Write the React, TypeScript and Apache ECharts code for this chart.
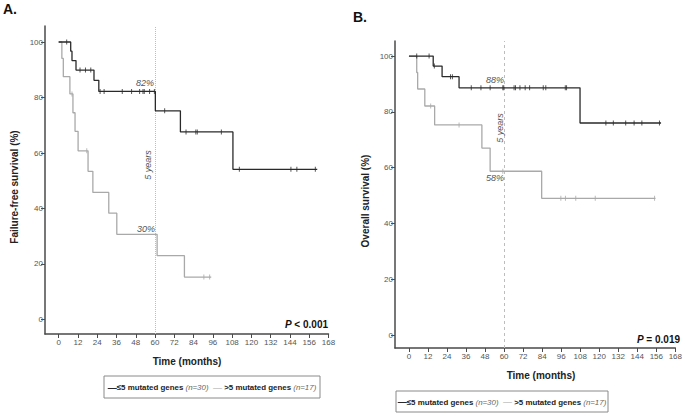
import React, { useEffect, useRef } from "react";
import * as echarts from "echarts";

// ---------- data ----------
const xTicks = [0, 12, 24, 36, 48, 60, 72, 84, 96, 108, 120, 132, 144, 156, 168];
const yTicks = [0, 20, 40, 60, 80, 100];

// Panel A: failure-free survival
const ffsLowCurve: [number, number][] = [
  [0, 100], [7.5, 96.7], [8.3, 93.3], [10.8, 89.9], [22, 86.2], [25, 82.2],
  [60.2, 75.2], [75.8, 67.6], [108.5, 54.1], [161, 54.1],
];
const ffsLowCensor: [number, number][] = [
  [5, 100], [13.3, 89.9], [16.7, 89.9], [20, 89.9],
  [25.8, 82.2], [28.3, 82.2], [39.6, 82.2], [45.4, 82.2], [50.4, 82.2], [52.5, 82.2], [53.3, 82.2], [56.6, 82.2], [59.6, 82.2],
  [66, 75.2], [79.3, 67.6], [85.4, 67.6], [86.3, 67.6], [101.3, 67.6],
  [112.5, 54.1], [144.6, 54.1], [148.3, 54.1], [159.8, 54.1],
];
const ffsHighCurve: [number, number][] = [
  [0, 100], [2, 94.1], [2.9, 87.5], [7, 81.3], [8.9, 74.5], [10.2, 67.8], [12.1, 60.8],
  [18.3, 53.4], [21.3, 45.8], [31.2, 38.3], [36.2, 30.7], [61.3, 23], [78.3, 15.3], [95, 15.3],
];
const ffsHighCensor: [number, number][] = [
  [8.3, 81.3], [17.5, 60.8], [90.4, 15.3], [94, 15.3],
];

// Panel B: overall survival
const osLowCurve: [number, number][] = [
  [0, 100], [15.3, 96.4], [20.9, 92.6], [31.6, 88.6], [107.9, 76], [159, 76],
];
const osLowCensor: [number, number][] = [
  [4.9, 100], [12.7, 100], [16, 96.4], [26.2, 92.6], [27.4, 92.6],
  [39.3, 88.6], [45.4, 88.6], [51.2, 88.6], [59.2, 88.6], [59.8, 88.6], [66.3, 88.6], [67.2, 88.6],
  [70, 88.6], [73.3, 88.6], [76.1, 88.6], [84.7, 88.6], [86.3, 88.6], [98.6, 88.6], [99.4, 88.6],
  [124.2, 76], [128.9, 76], [136.7, 76], [142, 76], [146.9, 76], [158, 76],
];
const osHighCurve: [number, number][] = [
  [0, 100], [4.9, 94.1], [5.5, 88.2], [10, 82.1], [16.2, 75.3], [46, 67], [51.2, 58.7], [83.7, 49], [155.5, 49],
];
const osHighCensor: [number, number][] = [
  [13.7, 82.1], [31.6, 75.3], [59.2, 58.7], [95.8, 49], [98.7, 49], [105.2, 49], [117.5, 49], [154.9, 49],
];

const landmark = 60;

// ---------- styles ----------
const BLACK = "#2a2a2a";
const GRAY = "#a9a9a9";
const AXIS = "#4a4a4a";
const FONT = "Liberation Sans, Arial, sans-serif";

function xAxisCfg(gridIndex: number, min: number) {
  return {
    type: "value",
    gridIndex,
    min,
    max: 168,
    axisLine: { show: true, onZero: false, lineStyle: { color: AXIS, width: 1.5 } },
    axisTick: { show: true, length: 4, customValues: xTicks, lineStyle: { color: AXIS } },
    axisLabel: { customValues: xTicks, color: "#555", fontSize: 8, fontFamily: FONT, margin: 4, showMaxLabel: true },
    splitLine: { show: false },
  };
}
function yAxisCfg(gridIndex: number, min: number, max: number) {
  return {
    type: "value",
    gridIndex,
    min,
    max,
    axisLine: { show: true, onZero: false, lineStyle: { color: AXIS, width: 1.5 } },
    axisTick: { show: true, length: 4, customValues: yTicks, lineStyle: { color: AXIS } },
    axisLabel: { customValues: yTicks, color: "#555", fontSize: 8, fontFamily: FONT, margin: 2 },
    splitLine: { show: false },
  };
}
function curve(idx: number, data: [number, number][], color: string, withMark: boolean, markType: any) {
  const s: any = {
    type: "line",
    xAxisIndex: idx,
    yAxisIndex: idx,
    data,
    step: "end",
    showSymbol: false,
    lineStyle: { color, width: 1.3 },
    z: color === BLACK ? 4 : 3,
  };
  if (withMark) {
    s.markLine = {
      silent: true,
      symbol: "none",
      label: { show: false },
      lineStyle: { color: "#bdbdbd", type: markType, width: 1 },
      data: [{ xAxis: landmark }],
      z: 1,
    };
  }
  return s;
}
function censor(idx: number, data: [number, number][], color: string) {
  return {
    type: "scatter",
    xAxisIndex: idx,
    yAxisIndex: idx,
    data,
    symbol: "rect",
    symbolSize: [1, 5],
    itemStyle: { color },
    z: 5,
  };
}

function txt(x: number, y: number, text: string, font: string, opts: any = {}) {
  return {
    type: "text",
    x,
    y,
    rotation: opts.rotation || 0,
    style: {
      text,
      x: 0,
      y: 0,
      font,
      fill: opts.fill || "#222",
      align: opts.align || "center",
      verticalAlign: "middle",
      rich: opts.rich,
    },
    z: 10,
  };
}

function legend(x: number, y: number, w: number, h: number) {
  return [
    {
      type: "rect",
      shape: { x, y, width: w, height: h },
      style: { fill: "#fff", stroke: "#8a8a8a", lineWidth: 1 },
      z: 9,
    },
    txt(x + w / 2, y + h / 2 + 0.5, "{k|—}{b|≤5 mutated genes }{i|(n=30)}  {g|—} {b|>5 mutated genes }{i|(n=17)}", `bold 8px ${FONT}`, {
      rich: {
        k: { fill: BLACK, font: `bold 9px ${FONT}` },
        g: { fill: GRAY, font: `9px ${FONT}` },
        b: { fill: "#222", font: `bold 7.9px ${FONT}` },
        i: { fill: "#666", font: `italic 7.9px ${FONT}` },
      },
    }),
  ];
}

export default function App() {
  const ref = useRef<HTMLDivElement>(null);
  useEffect(() => {
    if (!ref.current) return;
    const chart = echarts.init(ref.current, undefined, { renderer: "svg" });
    const italicSmall = `italic 9px ${FONT}`;
    const option: any = {
      animation: false,
      backgroundColor: "#fff",
      grid: [
        { left: 45, top: 26, width: 283.5, height: 308 },
        { left: 395, top: 41, width: 288, height: 307 },
      ],
      xAxis: [xAxisCfg(0, -8.5), xAxisCfg(1, -8.8)],
      yAxis: [yAxisCfg(0, -5.23, 105.77), yAxisCfg(1, -4.66, 105.4)],
      series: [
        curve(0, ffsHighCurve, GRAY, true, "dotted"),
        curve(0, ffsLowCurve, BLACK, false, null),
        censor(0, ffsHighCensor, GRAY),
        censor(0, ffsLowCensor, BLACK),
        curve(1, osHighCurve, GRAY, true, [3, 3]),
        curve(1, osLowCurve, BLACK, false, null),
        censor(1, osHighCensor, GRAY),
        censor(1, osLowCensor, BLACK),
      ],
      graphic: [
        txt(3, 9, "A.", `bold 14px ${FONT}`, { align: "left", fill: "#111" }),
        txt(353, 17, "B.", `bold 14px ${FONT}`, { align: "left", fill: "#111" }),
        txt(14, 187, "Failure-free survival (%)", `bold 10px ${FONT}`, { rotation: Math.PI / 2 }),
        txt(365, 201, "Overall survival (%)", `bold 10px ${FONT}`, { rotation: Math.PI / 2 }),
        txt(187, 361, "Time (months)", `bold 10px ${FONT}`),
        txt(541, 375, "Time (months)", `bold 10px ${FONT}`),
        txt(145, 83, "82%", italicSmall, { fill: "#555" }),
        txt(146, 229, "30%", italicSmall, { fill: "#555" }),
        txt(148, 165, "5 years", italicSmall, { fill: "#555", rotation: Math.PI / 2 }),
        txt(495, 80, "88%", italicSmall, { fill: "#555" }),
        txt(495, 178, "58%", italicSmall, { fill: "#555" }),
        txt(500, 128, "5 years", italicSmall, { fill: "#555", rotation: Math.PI / 2 }),
        txt(328, 324, "{p|P}{q| < 0.001}", `bold 10px ${FONT}`, {
          align: "right",
          rich: { p: { font: `italic bold 10px ${FONT}`, fill: "#111" }, q: { font: `bold 10px ${FONT}`, fill: "#111" } },
        }),
        txt(680, 339, "{p|P}{q| = 0.019}", `bold 10px ${FONT}`, {
          align: "right",
          rich: { p: { font: `italic bold 10px ${FONT}`, fill: "#111" }, q: { font: `bold 10px ${FONT}`, fill: "#111" } },
        }),
        ...legend(104, 376, 216, 22),
        ...legend(396, 391, 212, 21),
      ],
    };
    chart.setOption(option);
    return () => chart.dispose();
  }, []);
  return (
    <div
      ref={ref}
      style={{ position: "absolute", left: 0, top: 0, width: 685, height: 417, background: "#fff" }}
    />
  );
}
